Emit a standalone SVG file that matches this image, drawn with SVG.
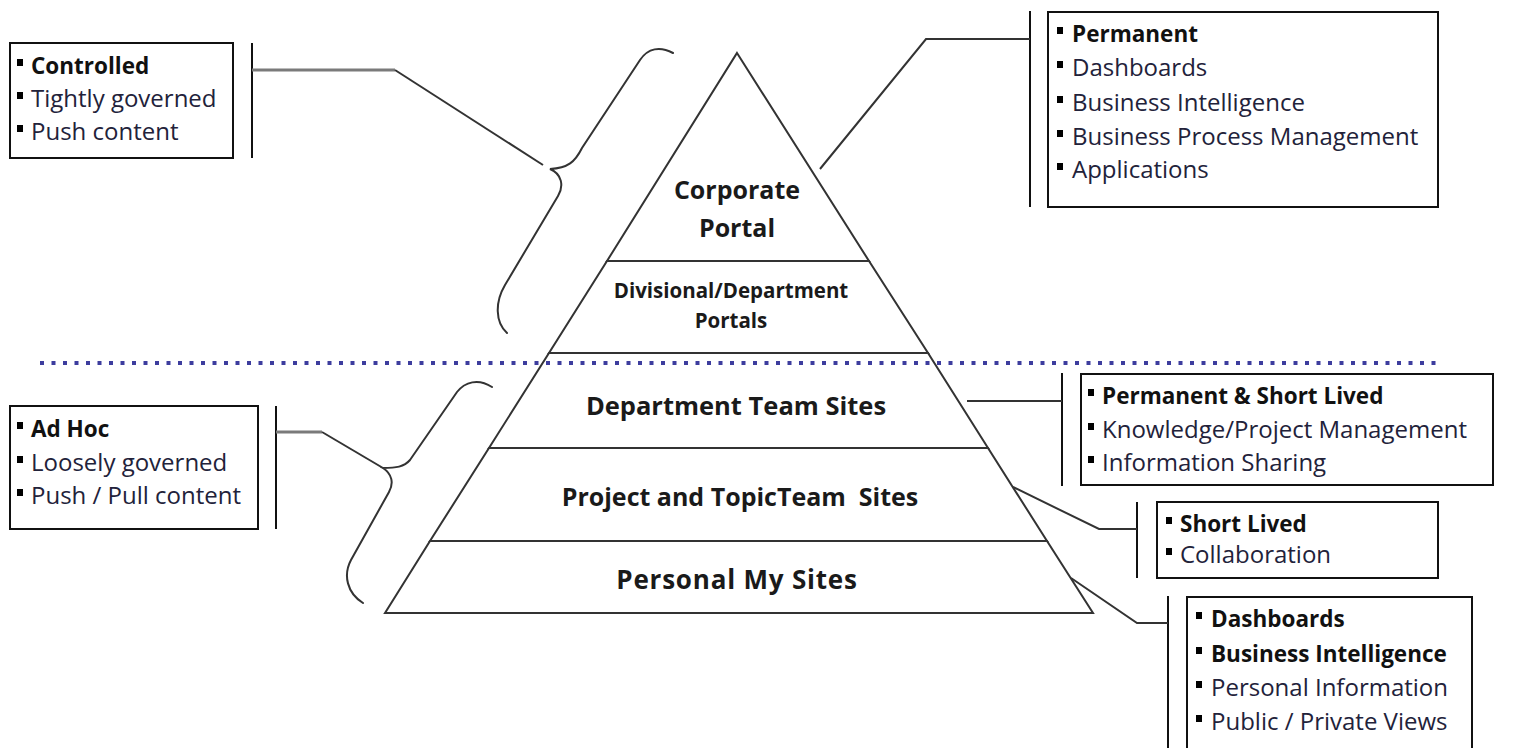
<svg xmlns="http://www.w3.org/2000/svg" width="1521" height="748" viewBox="0 0 1521 748">
<style>
.tier{fill:#fff;stroke:#333;stroke-width:2;stroke-linejoin:miter}
.lbl{font-family:"Open Sans","Noto Sans",sans-serif;font-weight:bold;fill:#1a1a1a;text-anchor:middle}
.box{fill:#fff;stroke:#111;stroke-width:2}
.t{font-family:"Open Sans","Noto Sans",sans-serif;font-size:24px;fill:#22223a}
.b{font-family:"Open Sans","Noto Sans",sans-serif;font-size:22.5px;font-weight:bold;fill:#111}
.bul{fill:#000}
.ln{fill:none;stroke:#333;stroke-width:2}
.gr{fill:none;stroke:#7a7a7a;stroke-width:3}
.br{fill:none;stroke:#111;stroke-width:2}
.brace{fill:none;stroke:#333;stroke-width:2;stroke-linecap:round}
</style>
<rect width="1521" height="748" fill="#fff"/>
<g id="pyramid">
<g id="tier-corporate"><polygon class="tier" points="737,53 869,261 607,261"/><text class="lbl" x="737" y="199" font-size="25">Corporate</text><text class="lbl" x="737" y="237" font-size="25">Portal</text></g>
<g id="tier-divisional"><polygon class="tier" points="607,261 869,261 928,353 549,353"/><text class="lbl" x="731" y="298" font-size="20.5">Divisional/Department</text><text class="lbl" x="731" y="328" font-size="20.5">Portals</text></g>
<g id="tier-department"><polygon class="tier" points="549,353 928,353 988,448 489,448"/><text class="lbl" x="736" y="415" font-size="25.5">Department Team Sites</text></g>
<g id="tier-project"><polygon class="tier" points="489,448 988,448 1047,541 430,541"/><text class="lbl" x="740" y="506" font-size="25" xml:space="preserve">Project and TopicTeam  Sites</text></g>
<g id="tier-personal"><polygon class="tier" points="430,541 1047,541 1093,613 385,613"/><text class="lbl" x="737" y="589" font-size="26" letter-spacing="0.8">Personal My Sites</text></g>
</g>
<g id="divider"><line x1="40" y1="363" x2="1437" y2="363" stroke="#3d3d9e" stroke-width="4" stroke-dasharray="4 7.5"/></g>
<g id="connectors">
<path class="brace" d="M673,53 C660,46 648,48 640,60 L582,148 C575,162 568,168 550,169 C562,174 564,186 558,196 L505,285 C495,302 495,322 507,333"/>
<line class="br" x1="252" y1="43" x2="252" y2="158"/>
<line class="gr" x1="252" y1="70" x2="395" y2="70"/>
<line class="ln" x1="395" y1="70" x2="543" y2="165"/>
<line class="br" x1="1030" y1="11" x2="1030" y2="207"/>
<polyline class="ln" points="1030,39 926,39 820,169"/>
<path class="brace" d="M492,387 C478,378 465,382 457,392 L410,460 C404,467 396,468 383,468 C392,474 394,483 389,492 L351,560 C343,575 347,593 363,603"/>
<line class="br" x1="276" y1="406" x2="276" y2="529"/>
<line class="gr" x1="276" y1="432" x2="322" y2="432"/>
<line class="ln" x1="322" y1="432" x2="383" y2="468"/>
<line class="br" x1="1062" y1="373" x2="1062" y2="486"/>
<line class="ln" x1="967" y1="401" x2="1062" y2="401"/>
<line class="br" x1="1137" y1="502" x2="1137" y2="578"/>
<polyline class="ln" points="1013,487 1099,529 1137,529"/>
<line class="br" x1="1168" y1="596" x2="1168" y2="748"/>
<polyline class="ln" points="1071,578 1137,623 1168,623"/>
</g>
<g id="box-controlled">
<rect class="box" x="10" y="43" width="223" height="115"/>
<rect class="bul" x="17" y="59" width="6" height="7"/><text class="b" x="31" y="74">Controlled</text>
<rect class="bul" x="17" y="92" width="6" height="7"/><text class="t" x="31" y="107">Tightly governed</text>
<rect class="bul" x="17" y="125" width="6" height="7"/><text class="t" x="31" y="140">Push content</text>
</g>
<g id="box-permanent">
<rect class="box" x="1048" y="12" width="390" height="195"/>
<rect class="bul" x="1057" y="27" width="6" height="7"/><text class="b" x="1072" y="42">Permanent</text>
<rect class="bul" x="1057" y="61" width="6" height="7"/><text class="t" x="1072" y="76">Dashboards</text>
<rect class="bul" x="1057" y="96" width="6" height="7"/><text class="t" x="1072" y="111">Business Intelligence</text>
<rect class="bul" x="1057" y="130" width="6" height="7"/><text class="t" x="1072" y="145">Business Process Management</text>
<rect class="bul" x="1057" y="163" width="6" height="7"/><text class="t" x="1072" y="178">Applications</text>
</g>
<g id="box-adhoc">
<rect class="box" x="10" y="406" width="248" height="123"/>
<rect class="bul" x="17" y="422" width="6" height="7"/><text class="b" x="31" y="437">Ad Hoc</text>
<rect class="bul" x="17" y="456" width="6" height="7"/><text class="t" x="31" y="471">Loosely governed</text>
<rect class="bul" x="17" y="489" width="6" height="7"/><text class="t" x="31" y="504">Push / Pull content</text>
</g>
<g id="box-perm-short">
<rect class="box" x="1081" y="374" width="412" height="111"/>
<rect class="bul" x="1088" y="389" width="6" height="7"/><text class="b" x="1102" y="404">Permanent &amp; Short Lived</text>
<rect class="bul" x="1088" y="423" width="6" height="7"/><text class="t" x="1102" y="438">Knowledge/Project Management</text>
<rect class="bul" x="1088" y="456" width="6" height="7"/><text class="t" x="1102" y="471">Information Sharing</text>
</g>
<g id="box-short">
<rect class="box" x="1157" y="502" width="281" height="76"/>
<rect class="bul" x="1166" y="517" width="6" height="7"/><text class="b" x="1180" y="532">Short Lived</text>
<rect class="bul" x="1166" y="548" width="6" height="7"/><text class="t" x="1180" y="563">Collaboration</text>
</g>
<g id="box-personal">
<rect class="box" x="1187" y="597" width="285" height="170"/>
<rect class="bul" x="1196" y="612" width="6" height="7"/><text class="b" x="1211" y="627">Dashboards</text>
<rect class="bul" x="1196" y="647" width="6" height="7"/><text class="b" x="1211" y="662">Business Intelligence</text>
<rect class="bul" x="1196" y="681" width="6" height="7"/><text class="t" x="1211" y="696">Personal Information</text>
<rect class="bul" x="1196" y="715" width="6" height="7"/><text class="t" x="1211" y="730">Public / Private Views</text>
</g>
</svg>
